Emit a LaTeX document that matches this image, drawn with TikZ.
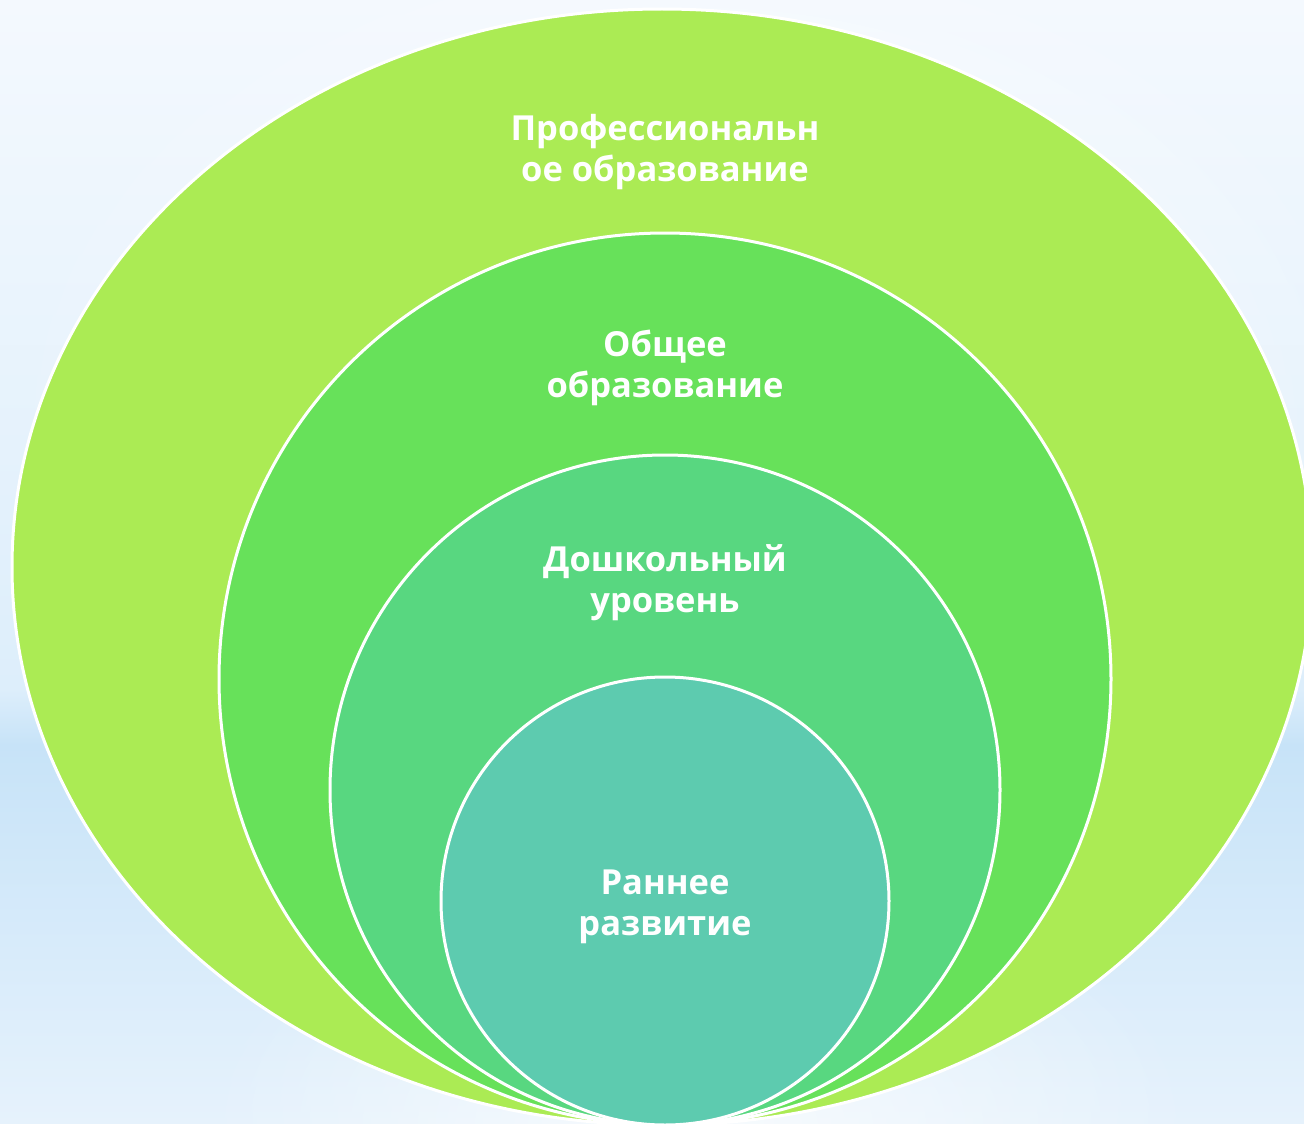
\documentclass[tikz,border=0pt]{standalone}
\usepackage{fontspec}
\setmainfont{Open Sans}
\usetikzlibrary{shapes.geometric,fadings}
\definecolor{cOuter}{HTML}{ABEB54}
\definecolor{cGen}{HTML}{67E15A}
\definecolor{cPre}{HTML}{58D780}
\definecolor{cEarly}{HTML}{5DCBAF}
\definecolor{bgTop}{HTML}{F4F9FE}
\definecolor{bgMid}{HTML}{DDEEFB}
\definecolor{bgBand}{HTML}{C7E3F8}
\definecolor{bgLow}{HTML}{E6F2FC}
\tikzfading[name=glowfade, inner color=transparent!0, outer color=transparent!100]
\tikzset{
  ring/.style={ellipse, draw=white, line width=3pt, inner sep=0pt, outer sep=0pt},
  lbl/.style={text=white, font=\bfseries\fontsize{34.5}{40.5}\selectfont, align=center, inner sep=0pt, anchor=base}
}
\begin{document}
\begin{tikzpicture}[x=1pt,y=-1pt]
\useasboundingbox (0,0) rectangle (1304,1124);
% background
\begin{scope}
\clip (0,0) rectangle (1304,1124);
\shade[top color=bgTop, bottom color=bgMid] (0,0) rectangle (1304,690);
\shade[top color=bgMid, bottom color=bgBand] (0,689) rectangle (1304,745);
\shade[top color=bgBand, bottom color=bgLow] (0,744) rectangle (1304,1124);
\fill[white, path fading=glowfade, opacity=0.8] (700,420) ellipse [x radius=700, y radius=520];
\fill[white, path fading=glowfade, opacity=0.7] (700,1124) ellipse [x radius=500, y radius=260];
\end{scope}
% rings
\node[ring, fill=cOuter, minimum width=1300pt, minimum height=1116pt] (prof) at (662,567) {};
\node[ring, fill=cGen, minimum width=892pt, minimum height=892pt] (gen) at (665,679) {};
\node[ring, fill=cPre, minimum width=670pt, minimum height=670pt] (pre) at (665,790) {};
\node[ring, fill=cEarly, minimum width=448pt, minimum height=448pt] (early) at (665,901) {};
% labels (base = last line baseline)
\node[lbl] (tprof) at (665,181) {Профессиональн\\ое образование};
\node[lbl] (tgen) at (665,397) {Общее\\образование};
\node[lbl] (tpre) at (665,612) {Дошкольный\\уровень};
\node[lbl] (tearly) at (665,935) {Раннее\\развитие};
\end{tikzpicture}
\end{document}
